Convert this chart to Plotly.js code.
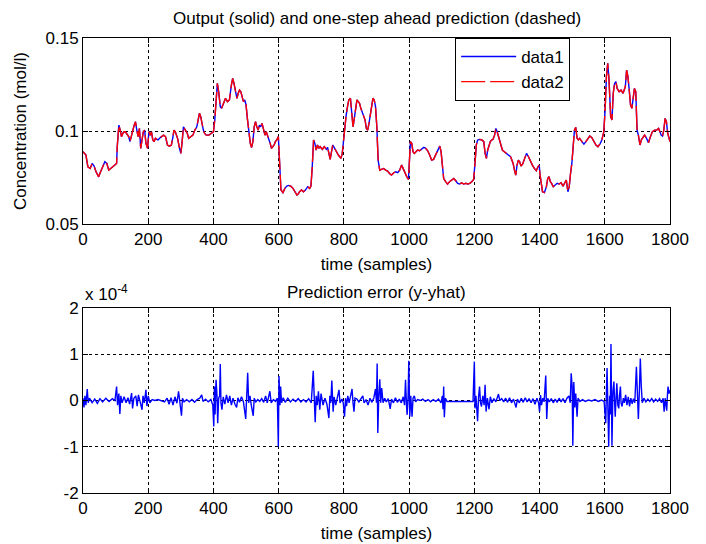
<!DOCTYPE html>
<html>
<head>
<meta charset="utf-8">
<script src="https://cdn.plot.ly/plotly-3.0.1.min.js"></script>
<style>html,body{margin:0;padding:0;background:#fff;}#chart{width:706px;height:544px;}</style>
</head>
<body>
<div id="chart"></div>
<script>
// ---- Output concentration (mol/l) vs time (samples); prediction overlaps within a pixel
const timeSamples = [0,9,15,22,28,34,40,48,54,60,67,73,79,85,91,99,103,105,110,114,118,122,126,130,136,140,144,148,153,157,161,165,169,173,177,181,185,189,193,198,202,206,210,214,218,222,230,238,247,253,259,265,271,275,279,283,290,296,300,304,308,314,320,324,331,337,343,349,353,357,361,365,369,373,378,386,394,400,404,408,412,416,421,425,431,437,443,449,
455,459,463,468,472,476,480,484,488,492,496,500,504,508,513,517,521,525,529,533,537,541,545,549,554,558,562,566,570,574,578,582,586,590,594,599,603,605,607,613,619,625,631,637,644,650,656,660,664,670,676,682,689,695,699,703,707,711,715,719,723,727,734,740,746,750,754,758,762,766,770,775,779,783,787,791,795,799,803,807,811,815,820,824,828,832,836,840,844,848,852,856,860,865,869,873,877,881,885,889,893,897,901,905,910,
916,922,928,934,940,946,953,959,965,971,977,981,985,989,993,998,1002,1004,1008,1012,1016,1020,1026,1032,1039,1045,1051,1057,1063,1069,1075,1081,1088,1094,1098,1102,1106,1112,1118,1124,1131,1137,1143,1149,1155,1161,1167,1174,1180,1186,1192,1198,1202,1206,1210,1217,1223,1229,1233,1237,1241,1245,1249,1253,1257,1262,1266,1270,1274,1278,1282,1286,1292,1298,1305,1311,1315,1319,1323,1327,1331,1335,1339,1343,1348,1352,1356,
1360,1366,1372,1378,1384,1390,1395,1399,1401,1405,1409,1415,1421,1425,1429,1433,1437,1442,1448,1454,1460,1466,1472,1478,1482,1487,1491,1495,1499,1503,1507,1511,1515,1519,1523,1530,1536,1542,1548,1554,1560,1566,1573,1579,1585,1591,1597,1601,1605,1609,1613,1618,1622,1626,1630,1634,1638,1644,1650,1656,1663,1667,1671,1675,1679,1683,1687,1691,1695,1699,1703,1708,1712,1716,1722,1728,1734,1740,1746,1753,1759,1765,1769,1773,1777,1781,1785,1789,1793,1797,1800];
const concentration = [0.0889,0.0871,0.0808,0.0799,0.0826,0.0812,0.0781,0.0754,0.0781,0.0808,0.0835,0.0826,0.0790,0.0799,0.0808,0.0817,0.0826,0.0916,0.1032,0.1005,0.0970,0.0987,0.0996,0.0996,0.0978,0.0970,0.0943,0.0978,0.1005,0.1032,0.1050,0.1005,0.0970,0.1014,0.0907,0.0952,0.0996,0.1005,0.0934,0.0907,0.0996,0.0978,0.0996,0.0952,0.0943,0.0961,0.0952,0.0966,0.0978,0.0970,0.0925,0.0919,0.0925,0.0961,0.1005,0.0996,0.0961,0.0907,0.0880,0.0943,0.1023,0.1005,0.0987,0.0961,0.0970,0.0978,0.1005,0.1023,0.1059,0.1095,0.1077,0.1032,0.1005,0.0987,0.0978,0.0978,0.0987,0.0996,0.1059,0.1167,0.1256,0.1211,0.1131,0.1122,0.1149,0.1176,0.1158,0.1167,
0.1247,0.1283,0.1256,0.1203,0.1176,0.1203,0.1220,0.1211,0.1185,0.1158,0.1167,0.1140,0.1068,0.0996,0.0934,0.0912,0.0943,0.1023,0.1050,0.1023,0.1005,0.1032,0.1023,0.1041,0.0996,0.0978,0.0996,0.0978,0.0961,0.0934,0.0907,0.0916,0.0925,0.0943,0.0952,0.0970,0.0862,0.0754,0.0683,0.0669,0.0692,0.0704,0.0708,0.0704,0.0692,0.0677,0.0656,0.0661,0.0674,0.0683,0.0674,0.0683,0.0701,0.0692,0.0704,0.0808,0.0952,0.0934,0.0898,0.0925,0.0907,0.0916,0.0902,0.0916,0.0902,0.0912,0.0880,0.0848,0.0889,0.0925,0.0912,0.0894,0.0880,0.0871,0.0862,0.0853,0.0880,0.0952,0.1032,0.1086,0.1131,0.1167,0.1176,0.1113,0.1023,0.1068,0.1131,0.1167,0.1158,0.1149,0.1122,0.1104,0.1077,0.1059,0.1014,0.1005,0.1041,0.1095,0.1149,0.1176,0.1167,0.1131,0.1023,0.0844,0.0790,
0.0794,0.0799,0.0790,0.0785,0.0772,0.0763,0.0776,0.0781,0.0776,0.0790,0.0817,0.0799,0.0781,0.0763,0.0754,0.0740,0.0844,0.0943,0.0934,0.0889,0.0880,0.0889,0.0898,0.0894,0.0902,0.0912,0.0907,0.0894,0.0871,0.0844,0.0848,0.0871,0.0898,0.0919,0.0889,0.0808,0.0745,0.0728,0.0715,0.0728,0.0737,0.0745,0.0733,0.0719,0.0715,0.0722,0.0715,0.0719,0.0715,0.0719,0.0728,0.0740,0.0826,0.0925,0.0952,0.0955,0.0952,0.0943,0.0880,0.0853,0.0898,0.0925,0.0943,0.0952,0.0955,0.0978,0.1014,0.0996,0.0970,0.0943,0.0916,0.0898,0.0889,0.0880,0.0871,0.0862,0.0844,0.0826,0.0790,0.0763,0.0817,0.0844,0.0835,0.0812,0.0822,0.0844,0.0862,
0.0880,0.0862,0.0835,0.0817,0.0799,0.0787,0.0808,0.0817,0.0772,0.0719,0.0674,0.0669,0.0701,0.0745,0.0755,0.0728,0.0719,0.0701,0.0710,0.0719,0.0715,0.0722,0.0704,0.0728,0.0737,0.0674,0.0701,0.0772,0.0826,0.0916,0.1005,0.1020,0.0961,0.0952,0.0961,0.0943,0.0930,0.0943,0.0955,0.0973,0.0966,0.0943,0.0925,0.0916,0.0930,0.0952,0.0996,0.1113,0.1292,0.1364,0.1274,0.1077,0.1059,0.1203,0.1256,0.1265,0.1229,0.1212,0.1220,0.1203,0.1238,0.1328,0.1292,0.1220,0.1140,0.1122,0.1185,0.1229,0.1212,0.1005,0.0978,0.0925,0.0952,0.0961,0.0978,0.0961,0.0937,0.0970,0.0996,0.1005,0.1005,0.1014,0.0996,0.0978,0.0973,0.1005,0.1068,0.1050,0.0988,0.0952,0.0943];

// ---- Prediction error (units of 1e-4)
const errorSamples = [0,3,6,9,13,16,20,28,36,44,52,60,70,80,90,98,103,106,110,113,116,120,126,132,138,143,149,152,156,162,166,170,176,181,184,188,193,196,200,205,212,220,230,240,250,258,264,270,276,282,288,293,297,302,305,310,318,326,334,342,350,358,364,368,376,384,392,398,401,403,405,408,411,413,416,419,421,423,426,430,435,440,445,450,455,460,466,471,475,480,486,492,499,502,505,508,512,516,522,525,530,536,542,548,554,560,565,573,577,584,590,596,599,601,604,606,609,614,620,628,636,644,652,660,668,676,684,692,700,706,709,712,715,718,722,726,730,736,742,748,754,757,760,763,767,770,775,780,785,788,794,798,802,805,808,812,816,820,825,828,831,834,840,846,852,858,862,868,874,880,886,892,897,900,902,904,907,910,913,916,920,925,930,936,942,946,952,958,964,970,976,982,986,989,992,994,997,999,1002,1005,1009,1012,1016,1020,1026,1034,1042,1050,1058,1066,1074,1082,1090,1098,1102,1104,1106,1108,1111,1116,1125,1140,1155,1170,1185,1196,1200,1202,1205,1210,1213,1216,1219,1222,1226,1230,1233,1236,1240,1245,1249,1254,1260,1266,1274,1278,1284,1290,1296,1302,1308,1314,1320,1328,1332,1338,1344,1350,1356,1362,1368,1374,1380,1386,1392,1397,1400,1403,1406,1410,1414,1419,1422,1425,1430,1436,1442,1448,1454,1460,1466,1472,1478,1484,1490,1494,1497,1500,1502,1505,1508,1511,1515,1518,1524,1532,1540,1550,1560,1570,1580,1590,1598,1603,1605,1607,1610,1612,1615,1617,1619,1622,1625,1628,1630,1632,1635,1637,1640,1643,1645,1648,1650,1653,1657,1660,1664,1668,1672,1676,1680,1684,1688,1692,1697,1700,1703,1706,1709,1712,1715,1720,1726,1732,1738,1744,1750,1756,1762,1768,1774,1779,1782,1785,1790,1792,1794,1797,1800];
const errorValues = [0.05,-0.15,0.1,-0.1,0.25,-0.05,0.05,-0.05,0.03,-0.06,0.04,-0.03,0.05,-0.02,0.04,0.0,0.3,-0.1,0.15,-0.29,0.1,-0.05,0.08,-0.05,0.06,-0.08,0.16,-0.17,0.05,0.1,-0.12,0.12,-0.05,-0.2,0.1,-0.05,0.23,-0.12,0.1,-0.05,0.02,0.0,0.02,0.0,-0.03,0.05,-0.08,0.06,-0.1,0.08,-0.06,0.2,-0.05,-0.33,0.05,-0.03,0.02,-0.03,0.02,-0.04,0.02,0.05,0.12,-0.02,0.03,-0.03,0.02,-0.1,-0.56,0.3,-0.3,0.45,0.1,-0.49,0.05,0.1,0.79,-0.05,-0.2,0.08,-0.08,0.12,-0.05,0.1,-0.1,0.05,-0.08,-0.15,0.06,-0.04,0.08,-0.03,-0.4,0.05,0.6,-0.05,0.1,-0.1,-0.33,0.05,-0.03,0.02,-0.02,0.04,-0.04,0.1,-0.05,0.2,-0.05,0.02,-0.02,0.05,-1.0,0.53,-0.1,0.3,-0.05,0.06,-0.04,0.05,-0.03,0.03,-0.02,0.04,-0.03,0.02,-0.03,0.04,-0.05,0.64,-0.1,-0.47,0.1,-0.1,0.2,-0.2,0.15,-0.1,0.05,-0.08,-0.38,0.1,-0.05,0.43,-0.24,0.08,-0.1,0.05,0.23,-0.05,0.03,-0.05,-0.35,0.05,-0.12,0.1,-0.05,0.08,0.25,-0.05,-0.24,0.05,0.03,-0.03,0.05,0.1,-0.05,0.02,-0.1,0.05,-0.04,0.06,0.25,-0.05,0.8,-0.7,0.1,0.46,-0.05,0.27,-0.05,0.05,-0.03,0.04,-0.18,0.03,-0.05,0.06,-0.04,0.03,-0.05,0.08,-0.1,0.45,-0.1,-0.31,0.1,0.86,-0.35,0.1,-0.35,0.05,0.1,-0.03,0.02,0.0,0.03,-0.02,0.02,-0.03,0.02,-0.02,0.03,-0.05,0.1,-0.19,0.3,-0.36,0.05,-0.02,-0.02,-0.02,-0.02,-0.02,-0.02,-0.02,0.84,-0.17,0.1,-0.45,0.08,0.3,-0.05,-0.13,0.1,-0.1,0.34,-0.24,0.05,-0.19,0.08,-0.05,0.04,-0.03,0.14,0.0,0.04,-0.03,0.05,-0.04,0.06,-0.05,0.03,-0.15,0.03,-0.05,0.05,-0.04,0.06,-0.03,0.04,-0.05,0.04,-0.08,0.05,-0.05,-0.24,0.12,-0.1,0.05,-0.03,0.54,-0.4,0.05,-0.03,0.04,-0.05,0.03,-0.04,0.05,-0.03,0.04,-0.05,0.05,0.1,-0.05,0.59,0.3,-0.98,0.4,-0.15,0.15,-0.35,0.05,-0.02,0.02,-0.02,0.01,-0.01,0.02,-0.02,0.01,-0.02,-0.49,0.2,0.7,-0.3,-1.0,0.1,-0.3,1.22,-0.98,0.2,0.41,0.0,-0.35,0.1,0.37,-0.1,-0.17,0.1,0.3,-0.05,-0.13,0.05,-0.05,0.12,-0.1,0.08,-0.13,0.05,-0.07,0.04,-0.05,0.73,0.1,-0.4,0.2,0.91,0.3,-0.05,0.05,-0.03,0.03,-0.02,0.04,-0.03,0.03,-0.02,0.04,-0.05,0.05,-0.24,0.05,-0.22,0.1,0.3,0.15,0.22];

const xTicks = [0,200,400,600,800,1000,1200,1400,1600,1800];
const yTopTicks = [0.05,0.1,0.15];
const yTopLabels = ['0.05','0.1','0.15'];
const yBotTicks = [-2,-1,0,1,2];
const yBotLabels = ['-2','-1','0','1','2'];

const FONT = 'Liberation Sans, Arial, sans-serif';
const FS = 17;

const traces = [
  {x: timeSamples, y: concentration, type:'scatter', mode:'lines', name:'data1',
   line:{color:'#0000ff', width:1.4}, xaxis:'x', yaxis:'y'},
  {x: timeSamples, y: concentration, type:'scatter', mode:'lines', name:'data2',
   line:{color:'#ff0000', width:1.4, dash:'24px,5px'}, xaxis:'x', yaxis:'y'},
  {x: errorSamples, y: errorValues, type:'scatter', mode:'lines', showlegend:false,
   line:{color:'#0000ff', width:1.4}, xaxis:'x2', yaxis:'y2'}
];

const axisCommon = {
  showline:true, linecolor:'#000', linewidth:1, mirror:'ticks',
  ticks:'inside', ticklen:5, tickcolor:'#000',
  showgrid:true, gridcolor:'#000', gridwidth:1, griddash:'3px,3px',
  zeroline:false, tickfont:{family:FONT, size:FS, color:'#000'}
};

const topDom = [0.591, 1];
const botDom = [0, 0.4066];

const layout = {
  width:706, height:544,
  margin:{l:83, r:36, t:38, b:51},
  paper_bgcolor:'#fff', plot_bgcolor:'#fff',
  font:{family:FONT, size:FS, color:'#000'},
  showlegend:true,
  legend:{x:0.634, xanchor:'left', y:1, yanchor:'top', bgcolor:'#fff',
    bordercolor:'#000', borderwidth:1, font:{family:FONT, size:FS, color:'#000'},
    itemwidth:55},
  xaxis: Object.assign({}, axisCommon, {domain:[0,1], range:[0,1800], tickvals:xTicks, anchor:'y',
    title:{text:'time (samples)', font:{family:FONT, size:FS}, standoff:9}}),
  yaxis: Object.assign({}, axisCommon, {domain:topDom, range:[0.05,0.15], tickvals:yTopTicks, ticktext:yTopLabels, anchor:'x',
    title:{text:'Concentration (mol/l)', font:{family:FONT, size:FS}, standoff:14}}),
  xaxis2: Object.assign({}, axisCommon, {domain:[0,1], range:[0,1800], tickvals:xTicks, anchor:'y2',
    title:{text:'time (samples)', font:{family:FONT, size:FS}, standoff:9}}),
  yaxis2: Object.assign({}, axisCommon, {domain:botDom, range:[-2,2], tickvals:yBotTicks, ticktext:yBotLabels, anchor:'x2'}),
  annotations:[
    {text:'Output (solid) and one-step ahead prediction (dashed)', xref:'paper', yref:'paper', x:0.5, y:1,
     xanchor:'center', yanchor:'bottom', yshift:8, showarrow:false, font:{family:FONT, size:FS}},
    {text:'Prediction error (y-yhat)', xref:'paper', yref:'paper', x:0.5, y:botDom[1],
     xanchor:'center', yanchor:'bottom', yshift:4, showarrow:false, font:{family:FONT, size:FS}},
    {text:'x 10<sup>-4</sup>', xref:'paper', yref:'paper', x:0, y:botDom[1],
     xanchor:'left', yanchor:'bottom', yshift:2, showarrow:false, font:{family:FONT, size:FS}}
  ]
};

Plotly.newPlot('chart', traces, layout, {staticPlot:true, displayModeBar:false});
</script>
</body>
</html>
